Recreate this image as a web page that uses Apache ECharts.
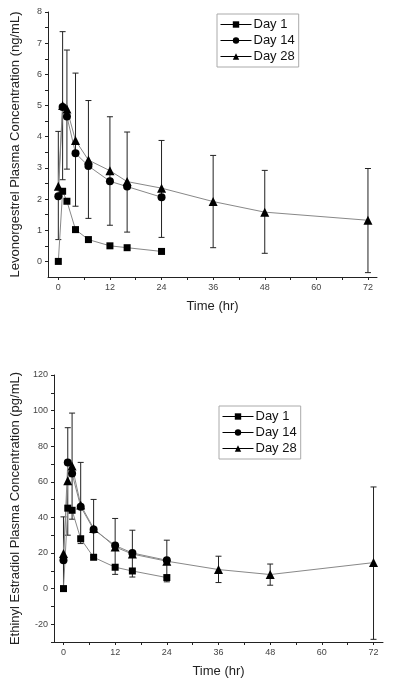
<!DOCTYPE html>
<html>
<head>
<meta charset="utf-8">
<script src="https://cdn.jsdelivr.net/npm/echarts@6/dist/echarts.min.js"></script>
<style>
  html, body { margin: 0; padding: 0; background: #fff; }
  #chart { width: 400px; height: 688px; }
</style>
</head>
<body>
<div id="chart"></div>
<script>
// sampling times (hr)
var times = [0, 1, 2, 4, 7, 12, 16, 24, 36, 48, 72];
var xTickLabels = [0, 12, 24, 36, 48, 60, 72];
var xMinorTicks = [0, 6, 12, 18, 24, 30, 36, 42, 48, 54, 60, 66, 72];

// levonorgestrel (ng/mL)
var lngDay1 = [0, 2.25, 1.93, 1.02, 0.70, 0.50, 0.44, 0.32];
var lngDay14 = [2.09, 4.95, 4.65, 3.47, 3.06, 2.57, 2.40, 2.06];
var lngDay28 = [2.41, 5.0, 4.89, 3.88, 3.25, 2.91, 2.56, 2.35, 1.92, 1.58, 1.32];
var lngLow = [0.70, 2.62, 2.96, 1.77, 1.38, 1.16, 0.94, 0.77, 0.44, 0.26, -0.36];
var lngHigh = [4.17, 7.37, 6.78, 6.04, 5.16, 4.64, 4.15, 3.88, 3.40, 2.92, 2.98];
var lngTickLabels = [0, 1, 2, 3, 4, 5, 6, 7, 8];
var lngMinorTicks = [0, 0.5, 1, 1.5, 2, 2.5, 3, 3.5, 4, 4.5, 5, 5.5, 6, 6.5, 7, 7.5, 8];

// ethinyl estradiol (pg/mL)
var eeDay1 = [0, 45.2, 44.0, 28.0, 17.6, 12.0, 9.9, 6.2];
var eeDay14 = [15.9, 70.9, 64.6, 46.0, 33.2, 24.2, 20.0, 15.9];
var eeDay28 = [19.7, 60.6, 68.9, 47.0, 33.8, 23.4, 19.4, 15.4, 10.7, 7.9, 14.6];
var eeLow = [-1, 30, 39, 25.3, 17.5, 8, 6.5, 3.8, 3.4, 1.9, -28.5];
var eeHigh = [40.3, 90.4, 98.6, 70.9, 50.1, 39.4, 32.8, 27.2, 18.2, 13.8, 57.1];
var eeTickLabels = [-20, 0, 20, 40, 60, 80, 100, 120];
var eeMinorTicks = [-30, -20, -10, 0, 10, 20, 30, 40, 50, 60, 70, 80, 90, 100, 110, 120];

var font = 'Liberation Sans, Arial, sans-serif';

function pairs(vals) {
    return vals.map(function (v, i) { return [times[i], v]; });
}
function bars(low, high) {
    return low.map(function (v, i) { return [times[i], v, high[i]]; });
}

function errRender(params, api) {
    var x = api.value(0);
    var lo = api.coord([x, api.value(1)]);
    var hi = api.coord([x, api.value(2)]);
    var w = 3;
    var st = { stroke: '#222', lineWidth: 1 };
    return {
        type: 'group',
        children: [
            { type: 'line', shape: { x1: lo[0], y1: lo[1], x2: hi[0], y2: hi[1] }, style: st },
            { type: 'line', shape: { x1: lo[0] - w, y1: lo[1], x2: lo[0] + w, y2: lo[1] }, style: st },
            { type: 'line', shape: { x1: hi[0] - w, y1: hi[1], x2: hi[0] + w, y2: hi[1] }, style: st }
        ]
    };
}

function xAxisOf(idx, min, max) {
    return {
        type: 'value', gridIndex: idx, min: min, max: max,
        name: 'Time (hr)', nameLocation: 'middle', nameGap: 23,
        nameTextStyle: { fontSize: 13, color: '#222', fontFamily: font },
        axisLine: { onZero: false, lineStyle: { color: '#222', width: 1 } },
        axisTick: { length: 3, customValues: xMinorTicks, lineStyle: { color: '#222' } },
        axisLabel: { customValues: xTickLabels, fontSize: 9, color: '#444', fontFamily: font, margin: 6 },
        splitLine: { show: false }
    };
}

function yAxisOf(idx, min, max, name, labels, ticks) {
    return {
        type: 'value', gridIndex: idx, min: min, max: max,
        name: name, nameLocation: 'middle', nameGap: 26,
        nameTextStyle: { fontSize: 13, color: '#222', fontFamily: font },
        axisLine: { show: true, onZero: false, lineStyle: { color: '#222', width: 1 } },
        axisTick: { show: true, length: 3, customValues: ticks, lineStyle: { color: '#222' } },
        axisLabel: { customValues: labels, fontSize: 9, color: '#444', fontFamily: font, margin: 6 },
        splitLine: { show: false }
    };
}

function lineSeries(name, idx, vals, symbol, size) {
    return {
        name: name, type: 'line', xAxisIndex: idx, yAxisIndex: idx,
        data: pairs(vals), symbol: symbol, symbolSize: size,
        itemStyle: { color: '#000' },
        lineStyle: { color: '#888', width: 1 },
        z: 3, animation: false
    };
}

function legendOf(left, top) {
    return {
        orient: 'vertical', left: left, top: top,
        data: ['Day 1', 'Day 14', 'Day 28'],
        itemWidth: 31, itemHeight: 8, itemGap: 3,
        padding: [4, 4, 4, 3],
        borderColor: '#aaa', borderWidth: 1,
        lineStyle: { color: '#000', width: 1 },
        textStyle: { fontSize: 13, color: '#111', fontFamily: font, padding: [0, 0, 0, -3] },
        selectedMode: false
    };
}

var chart = echarts.init(document.getElementById('chart'));

var option = {
    backgroundColor: '#fff',
    animation: false,
    grid: [
        { left: 48, top: 12, width: 329, height: 265 },
        { left: 54, top: 375, width: 329, height: 267 }
    ],
    legend: [legendOf(217, 14), legendOf(219, 406)],
    xAxis: [xAxisOf(0, -2.4, 74.1), xAxisOf(1, -2.2, 74.2)],
    yAxis: [
        yAxisOf(0, -0.5, 8, 'Levonorgestrel Plasma Concentration (ng/mL)', lngTickLabels, lngMinorTicks),
        yAxisOf(1, -30, 120, 'Ethinyl Estradiol Plasma Concentration (pg/mL)', eeTickLabels, eeMinorTicks)
    ],
    series: [
        { type: 'custom', xAxisIndex: 0, yAxisIndex: 0, renderItem: errRender, data: bars(lngLow, lngHigh), z: 1, silent: true },
        lineSeries('Day 1', 0, lngDay1, 'rect', 7),
        lineSeries('Day 14', 0, lngDay14, 'circle', 8),
        lineSeries('Day 28', 0, lngDay28, 'triangle', 9),
        { type: 'custom', xAxisIndex: 1, yAxisIndex: 1, renderItem: errRender, data: bars(eeLow, eeHigh), z: 1, silent: true },
        lineSeries('Day 1', 1, eeDay1, 'rect', 7),
        lineSeries('Day 14', 1, eeDay14, 'circle', 8),
        lineSeries('Day 28', 1, eeDay28, 'triangle', 9)
    ]
};

chart.setOption(option);
</script>
</body>
</html>
